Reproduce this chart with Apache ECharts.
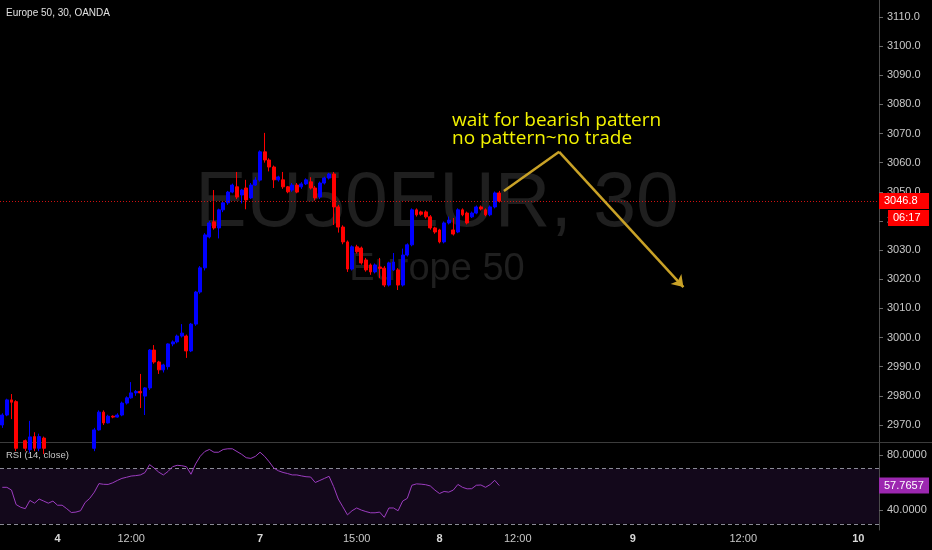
<!DOCTYPE html>
<html><head><meta charset="utf-8">
<script src="https://cdn.jsdelivr.net/npm/echarts@6/dist/echarts.min.js"></script>
<style>html,body{margin:0;padding:0;background:#000;}#c{width:932px;height:550px;}</style>
</head><body><div id="c"></div>
<script>
const opens = [2970.0,2973.4,2978.6,2978.0,2962.0,2964.6,2961.5,2966.0,2962.0,2965.5,
2962.0,2959.0,2957.0,2958.5,2956.0,2957.5,2955.0,2953.5,2955.0,2958.0,
2962.0,2968.3,2974.4,2970.7,2973.0,2972.7,2973.4,2977.5,2979.3,2981.0,
2981.5,2979.9,2982.7,2995.7,2991.6,2988.9,2990.0,2997.8,2998.5,3000.5,
3000.5,2995.4,3004.6,3015.6,3023.9,3034.5,3039.7,3037.6,3043.8,3046.2,
3049.9,3051.7,3048.9,3051.3,3047.9,3052.3,3054.0,3063.7,3060.9,3058.5,
3054.1,3054.1,3051.7,3050.6,3052.3,3051.7,3052.7,3053.4,3051.3,3048.2,
3053.0,3054.7,3056.1,3044.8,3037.9,3032.8,3023.5,3031.1,3030.7,3026.6,
3024.9,3022.5,3024.2,3023.8,3018.0,3023.2,3023.2,3018.0,3028.3,3031.8,
3043.8,3043.1,3043.1,3041.4,3037.6,3036.9,3032.8,3039.3,3036.9,3036.2,
3043.8,3042.7,3041.4,3042.7,3044.8,3043.8,3042.1,3044.8,3049.6];
const closes = [2973.4,2978.6,2977.8,2962.0,2963.8,2962.0,2965.9,2962.0,2966.0,2962.0,
2959.0,2957.0,2958.5,2956.0,2957.5,2955.0,2953.5,2955.0,2958.0,2962.0,
2968.3,2974.4,2970.7,2973.0,2972.7,2973.4,2977.5,2979.3,2981.0,2981.5,
2981.0,2982.7,2995.7,2991.6,2988.9,2990.6,2997.8,2998.5,3000.5,3001.5,
2995.4,3004.6,3015.6,3023.9,3035.2,3039.3,3037.6,3043.8,3046.2,3049.9,
3052.3,3048.2,3050.6,3047.2,3052.3,3054.0,3063.7,3060.9,3058.5,3054.1,
3055.1,3051.7,3050.0,3052.3,3049.9,3052.7,3054.1,3051.3,3047.9,3053.0,
3054.7,3056.1,3044.8,3037.9,3032.8,3023.5,3031.1,3029.4,3025.6,3023.2,
3022.5,3024.9,3023.7,3018.0,3025.6,3025.9,3018.0,3028.3,3031.8,3043.8,
3042.1,3042.3,3041.4,3037.6,3036.2,3032.8,3039.3,3040.3,3035.5,3043.8,
3042.1,3039.3,3042.7,3044.8,3044.1,3042.1,3044.8,3049.6,3046.8];
const lows = [2969.0,2973.0,2972.0,2961.0,2960.0,2961.0,2960.5,2961.0,2961.0,2960.0,
2958.0,2956.0,2955.5,2955.0,2954.5,2954.0,2952.5,2952.5,2954.0,2957.5,
2961.0,2968.0,2970.0,2970.5,2972.3,2972.5,2973.0,2977.0,2979.0,2980.0,
2975.8,2973.4,2982.0,2991.0,2987.5,2988.0,2989.0,2997.0,2998.0,3000.0,
2993.0,2995.0,3004.0,3015.0,3023.0,3034.0,3037.0,3034.0,3043.0,3045.5,
3049.5,3047.5,3046.0,3044.0,3047.5,3052.0,3053.5,3060.0,3057.0,3051.3,
3053.5,3051.0,3049.5,3050.0,3049.5,3051.0,3052.3,3050.8,3047.0,3047.5,
3052.5,3054.2,3038.6,3036.0,3032.0,3022.5,3023.0,3028.8,3025.0,3022.6,
3021.5,3022.0,3020.4,3017.3,3017.5,3022.8,3016.3,3017.5,3027.8,3031.3,
3041.5,3041.8,3040.8,3037.0,3035.6,3032.3,3032.3,3038.8,3035.0,3035.8,
3041.6,3038.8,3041.0,3042.3,3043.6,3041.6,3041.6,3044.3,3046.3];
const highs = [2974.0,2979.0,2980.6,2978.5,2964.0,2965.0,2971.4,2967.5,2967.0,2966.0,
2963.0,2960.5,2959.0,2959.5,2958.0,2958.0,2956.0,2956.0,2958.5,2962.5,
2969.0,2975.0,2975.0,2973.5,2973.3,2974.0,2978.0,2979.8,2984.7,2982.0,
2987.5,2983.0,2996.0,2997.4,2992.0,2991.0,2998.0,2999.0,3001.0,3004.6,
3001.0,3005.0,3016.0,3024.5,3035.8,3040.0,3050.6,3044.2,3046.8,3050.3,
3052.8,3056.8,3051.0,3054.1,3053.0,3055.0,3064.2,3070.2,3061.5,3059.0,
3055.5,3056.8,3052.0,3053.0,3053.0,3053.3,3054.6,3055.0,3052.0,3053.5,
3055.2,3056.5,3056.8,3045.5,3038.5,3033.3,3031.6,3031.8,3031.2,3027.3,
3025.4,3025.4,3027.3,3024.5,3026.0,3029.0,3023.8,3030.5,3032.3,3044.3,
3044.3,3043.5,3043.6,3042.0,3038.0,3037.3,3039.8,3041.5,3041.0,3044.3,
3044.3,3043.2,3043.2,3045.3,3045.3,3044.3,3045.3,3050.1,3050.3];
const rsiValues = [56.5,56.5,54.5,44,42,41,47,45,48,46.5,
45,46.5,43.5,43.5,41,38.2,38.5,39.5,45.5,48.5,
53,59.2,58.7,58.6,59.8,61.5,63,63.8,64.7,65,
65.5,67.2,73,70.5,67.5,65.5,68,71.5,72.5,72.2,
71.5,66,73.5,79,82.5,84,82,82,84,84.5,
84.5,82.5,80.5,78,77.5,79,82,79,75,70.5,
68.5,67.3,66.5,65.5,65.5,64.8,64.2,64,60,61.5,
63,64.5,57,48,42.3,36.5,39.5,41.5,40,38.9,
38,38,38.5,34.7,41.5,41.5,39.5,46.5,48.5,58,
59,58.8,58.4,57.5,54.5,52,53.5,53,54.5,58.6,
56.5,55.4,55.5,58,58.2,56.5,58.5,61.6,57.7657];
const totalSlots = 191;
const xTickIdx = [12,28,56,77,95,112,137,161,186];
const xTickText = ['4','12:00','7','15:00','8','12:00','9','12:00','10'];
const xTickIsDay = [true,false,true,false,true,false,true,false,true];
const yTicks = [2970,2980,2990,3000,3010,3020,3030,3040,3050,3060,3070,3080,3090,3100,3110];
const rsiTicks = [40,80];
const rsiBand = [30,70];
const arrowIdx = [109,121,148];
const arrowPrice = [3050.3,3063.7,3017.3];
const noteLines = ['wait for bearish pattern','no pattern~no trade'];
const timerText = '06:17';

const cats = [];
for (let i = 0; i < totalSlots; i++) cats.push(String(i));
const candles = opens.map((o, i) => [o, closes[i], lows[i], highs[i]]);
const lastClose = closes[closes.length - 1];
const lastRsi = rsiValues[rsiValues.length - 1];
const FONT = 'Liberation Sans, Arial, sans-serif';

const chart = echarts.init(document.getElementById('c'), null, {renderer: 'canvas'});
chart.setOption({
  backgroundColor: '#000000',
  animation: false,
  textStyle: {fontFamily: FONT},
  grid: [
    {left: 0, right: 53, top: 0, height: 442},
    {left: 0, right: 53, top: 443, height: 87}
  ],
  xAxis: [
    {type: 'category', gridIndex: 0, data: cats, boundaryGap: true,
     axisLine: {show: false}, axisTick: {show: false}, axisLabel: {show: false}, splitLine: {show: false}},
    {type: 'category', gridIndex: 1, data: cats, boundaryGap: true,
     axisLine: {show: false}, axisTick: {show: false}, splitLine: {show: false},
     axisLabel: {
       show: true, color: '#c8c8c8', fontSize: 11, margin: 3, hideOverlap: false,
       interval: (idx) => xTickIdx.indexOf(idx) >= 0,
       formatter: (v, idx) => {
         const k = xTickIdx.indexOf(Number(v));
         if (k < 0) return '';
         return xTickIsDay[k] ? '{b|' + xTickText[k] + '}' : xTickText[k];
       },
       rich: {b: {fontWeight: 'bold', color: '#d8d8d8', fontSize: 11}}
     }}
  ],
  yAxis: [
    {type: 'value', gridIndex: 0, position: 'right', min: 2964.15, max: 3115.8,
     splitLine: {show: false},
     axisLine: {show: true, lineStyle: {color: '#4a4a4a'}},
     axisTick: {show: true, length: 4, lineStyle: {color: '#6a6a6a'}, customValues: yTicks},
     axisLabel: {color: '#c8c8c8', fontSize: 11, margin: 8, customValues: yTicks,
                 formatter: (v) => Number(v).toFixed(1)}},
    {type: 'value', gridIndex: 1, position: 'right', min: 25.5, max: 88.7,
     splitLine: {show: false},
     axisLine: {show: true, lineStyle: {color: '#4a4a4a'}},
     axisTick: {show: true, length: 4, lineStyle: {color: '#6a6a6a'}, customValues: rsiTicks},
     axisLabel: {color: '#c8c8c8', fontSize: 11, margin: 8, customValues: rsiTicks,
                 formatter: (v) => Number(v).toFixed(4)}}
  ],
  series: [
    {type: 'candlestick', xAxisIndex: 0, yAxisIndex: 0, data: candles, barWidth: 3.4, clip: true, z: 3,
     itemStyle: {color: '#0000ff', color0: '#ff0000', borderColor: '#0000ff', borderColor0: '#ff0000', borderWidth: 1},
     markLine: {silent: true, symbol: ['none', 'none'], label: {show: false},
       lineStyle: {color: '#d01010', type: [1, 2], width: 1},
       data: [{yAxis: lastClose}]}},
    {type: 'line', xAxisIndex: 0, yAxisIndex: 0, data: [], silent: true, z: 4,
     markLine: {silent: true, animation: false, label: {show: false},
       lineStyle: {color: '#c9a227', type: 'solid', width: 2.5},
       data: [
         [{coord: [arrowIdx[0], arrowPrice[0]], symbol: 'none'}, {coord: [arrowIdx[1], arrowPrice[1]], symbol: 'none'}],
         [{coord: [arrowIdx[1], arrowPrice[1]], symbol: 'none'}, {coord: [arrowIdx[2], arrowPrice[2]], symbol: 'arrow', symbolSize: 11}]
       ]}},
    {type: 'line', xAxisIndex: 1, yAxisIndex: 1, data: rsiValues, showSymbol: false, symbol: 'none',
     lineStyle: {color: '#9c3cc0', width: 1}, z: 5,
     markArea: {silent: true, itemStyle: {color: 'rgba(120,50,170,0.16)'},
       data: [[{yAxis: rsiBand[0]}, {yAxis: rsiBand[1]}]]},
     markLine: {silent: true, symbol: ['none', 'none'], label: {show: false},
       lineStyle: {color: '#8a8a96', type: [4, 3], width: 1},
       data: [{yAxis: rsiBand[0]}, {yAxis: rsiBand[1]}]}}
  ]
});

const yPrice = chart.convertToPixel({yAxisIndex: 0}, lastClose);
const yRsi = chart.convertToPixel({yAxisIndex: 1}, lastRsi);
chart.setOption({graphic: [
  {type: 'text', z: 0, silent: true, style: {text: 'EU50EUR, 30', x: 437, y: 205, textAlign: 'center', textVerticalAlign: 'middle',
    fontSize: 77, fontFamily: FONT, fill: '#1f1f1f'}},
  {type: 'text', z: 0, silent: true, style: {text: 'Europe 50', x: 437, y: 270, textAlign: 'center', textVerticalAlign: 'middle',
    fontSize: 38, fontFamily: FONT, fill: '#1f1f1f'}},
  {type: 'text', style: {text: 'Europe 50, 30, OANDA', x: 6, y: 13, textVerticalAlign: 'middle',
    fontSize: 10, fontFamily: FONT, fill: '#e0e0e0'}},
  {type: 'text', style: {text: 'RSI (14, close)', x: 6, y: 455, textVerticalAlign: 'middle',
    fontSize: 9.5, fontFamily: FONT, fill: '#c8c8c8'}},
  {type: 'line', shape: {x1: 0, y1: 442.5, x2: 932, y2: 442.5}, style: {stroke: '#3c3c3c', lineWidth: 1}},
  {type: 'text', z: 50, style: {text: noteLines.join('\n'), x: 452, y: 111, lineHeight: 18.5,
    fontSize: 19, fontFamily: 'Open Sans, ' + FONT, fill: '#f2f200'}},
  {type: 'rect', shape: {x: 879, y: yPrice - 8, width: 50, height: 16}, style: {fill: '#ff0000'}, z: 100},
  {type: 'text', z: 101, style: {text: lastClose.toFixed(1), x: 884, y: yPrice, textVerticalAlign: 'middle', fontSize: 11, fontFamily: FONT, fill: '#ffffff'}},
  {type: 'rect', shape: {x: 888, y: yPrice + 9, width: 41, height: 16}, style: {fill: '#ff0000'}, z: 100},
  {type: 'text', z: 101, style: {text: timerText, x: 893, y: yPrice + 17, textVerticalAlign: 'middle', fontSize: 11, fontFamily: FONT, fill: '#ffffff'}},
  {type: 'rect', shape: {x: 879, y: yRsi - 8, width: 50, height: 16}, style: {fill: '#9c27b0'}, z: 100},
  {type: 'text', z: 101, style: {text: lastRsi.toFixed(4), x: 884, y: yRsi, textVerticalAlign: 'middle', fontSize: 11, fontFamily: FONT, fill: '#ffffff'}}
]});
</script></body></html>
